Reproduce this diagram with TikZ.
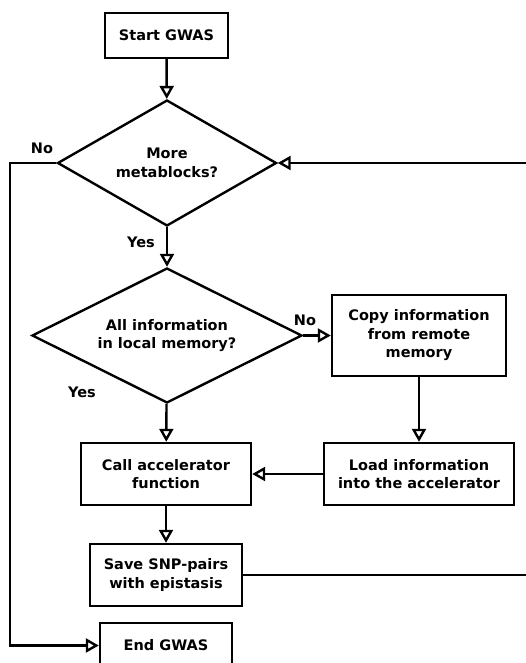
\documentclass[tikz,border=0pt]{standalone}
\usepackage{fontspec}
\setmainfont{DejaVu Sans}
\usetikzlibrary{shapes.geometric,arrows.meta}

\begin{document}
\begin{tikzpicture}[x=1pt, y=-1pt, line width=2.4pt,
  every node/.style={font=\fontsize{14.5}{18.5}\selectfont\bfseries, align=center},
  stepbox/.style={draw, rectangle, inner sep=0pt},
  test/.style={draw, diamond, inner sep=0pt, aspect=2},
  flow/.style={-{Triangle[fill=white, width=14pt, length=13pt]}}]
  \useasboundingbox (0,0) rectangle (526,663);
  \clip (0,0) rectangle (526,663);

  % Main column of the flowchart.
  \node[stepbox, minimum width=123pt, minimum height=45pt] (start) at (166.5,35.5) {Start GWAS};
  \node[test, minimum width=219pt, minimum height=126pt] (more) at (167,163) {More\\metablocks?};
  \node[test, minimum width=270pt, minimum height=135pt] (local) at (167,335.5) {All information\\in local memory?};
  \node[stepbox, minimum width=170pt, minimum height=62pt] (call) at (166,474) {Call accelerator\\function};
  \node[stepbox, minimum width=152pt, minimum height=62pt] (save) at (166,575) {Save SNP-pairs\\with epistasis};
  \node[stepbox, minimum width=132pt, minimum height=45pt] (end) at (166,645.5) {End GWAS};

  % Side branch for data that is not local.
  \node[stepbox, minimum width=174pt, minimum height=81pt] (copy) at (419,335.5) {Copy information\\from remote\\memory};
  \node[stepbox, minimum width=190pt, minimum height=62pt] (load) at (419,474) {Load information\\into the accelerator};

  \node at (42,148) {No};
  \node at (141,242) {Yes};
  \node at (305,320) {No};
  \node at (82,392) {Yes};

  \coordinate (leftrail) at (10,163);
  \coordinate (rightrail) at (545,575);

  \draw[flow] (start) -- (more);
  \draw[flow] (more) -- (local);
  \draw[flow] (local) -- (copy);
  \draw[flow] (local) -- (call);
  \draw[flow] (copy) -- (load);
  \draw[flow] (load) -- (call);
  \draw[flow] (call) -- (save);
  \draw[flow] (more.west) -- (leftrail) |- (end.west);
  \draw[flow] (save.east) -- (rightrail) |- (more.east);
\end{tikzpicture}
\end{document}
